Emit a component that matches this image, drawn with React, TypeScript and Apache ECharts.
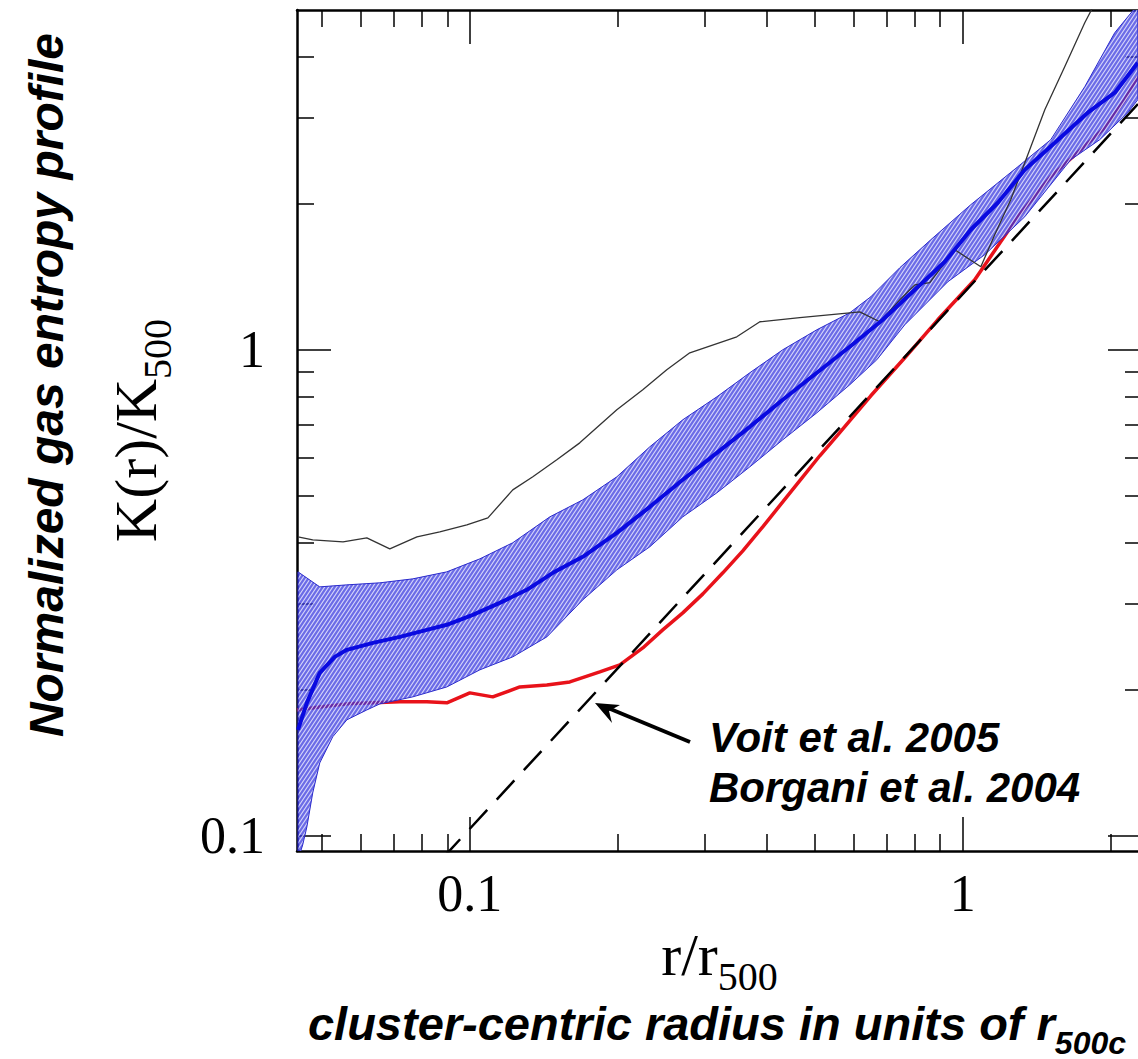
import React, { useEffect, useRef } from "react";
import * as echarts from "echarts";

// ---------- axis ranges (data units) ----------
const X_MIN = 0.0446;
const X_MAX = 2.31;
const Y_MIN = 0.0931;
const Y_MAX = 5.0;

// ---------- ticks ----------
const xMajorTicks = [0.1, 1];
const xMajorLabels = ["0.1", "1"];
const xMinorTicks = [0.05, 0.06, 0.07, 0.08, 0.09, 0.2, 0.3, 0.4, 0.5, 0.6, 0.7, 0.8, 0.9, 2];
const yMajorTicks = [0.1, 1];
const yMajorLabels = ["0.1", "1"];
const yMinorTicks = [0.2, 0.3, 0.4, 0.5, 0.6, 0.7, 0.8, 0.9, 2, 3, 4];

// ---------- series (r/r500, K/K500) ----------
const medianProfile: [number, number][] = [
  [0.0448, 0.1652], [0.0467, 0.1878], [0.0496, 0.2165], [0.0532, 0.2335], [0.0563, 0.2414],
  [0.0636, 0.2495], [0.0721, 0.2567], [0.0818, 0.2654], [0.0898, 0.2718], [0.1014, 0.2849],
  [0.115, 0.3016], [0.1305, 0.3208], [0.1474, 0.3477], [0.1695, 0.3751], [0.1987, 0.4202],
  [0.2318, 0.4753], [0.2704, 0.5402], [0.317, 0.6138], [0.3698, 0.6943], [0.4313, 0.7891],
  [0.5058, 0.8969], [0.5899, 1.0143], [0.6882, 1.1527], [0.7994, 1.329], [0.9194, 1.517],
  [1.038, 1.766], [1.178, 2.007], [1.336, 2.346], [1.537, 2.667], [1.793, 3.074],
  [2.034, 3.38], [2.265, 3.895],
];

const bandUpper: [number, number][] = [
  [0.0448, 0.3493], [0.0496, 0.3253], [0.0563, 0.3284], [0.0657, 0.3316], [0.0766, 0.3379],
  [0.0898, 0.3493], [0.1048, 0.3715], [0.1222, 0.4009], [0.1453, 0.4532], [0.1695, 0.4912],
  [0.1987, 0.5479], [0.2318, 0.6316], [0.2704, 0.7178], [0.317, 0.8002], [0.3698, 0.8969],
  [0.4313, 1.0], [0.5058, 1.0994], [0.5899, 1.1915], [0.6508, 1.2856], [0.7452, 1.475],
  [0.8612, 1.684], [1.038, 1.988], [1.2929, 2.379], [1.5083, 2.705], [1.768, 3.477],
  [2.034, 4.491], [2.265, 5.128],
];

const bandLower: [number, number][] = [
  [0.0448, 0.0892], [0.0458, 0.0958], [0.0467, 0.1043], [0.048, 0.1226], [0.0496, 0.1413],
  [0.0527, 0.1599], [0.0563, 0.1733], [0.0618, 0.1816], [0.0657, 0.1869], [0.0766, 0.1932],
  [0.0898, 0.2025], [0.1048, 0.2196], [0.1222, 0.2335], [0.1433, 0.2567], [0.1695, 0.3059],
  [0.1987, 0.3526], [0.2318, 0.3933], [0.2704, 0.4532], [0.317, 0.5078], [0.3698, 0.5743],
  [0.4313, 0.6528], [0.5058, 0.742], [0.5899, 0.8473], [0.6692, 0.9537], [0.7627, 1.1255],
  [0.9324, 1.38], [1.108, 1.569], [1.336, 1.878], [1.656, 2.46], [1.896, 2.705],
  [2.162, 3.074], [2.265, 3.269],
];

const singleCluster: [number, number][] = [
  [0.0448, 0.4122], [0.048, 0.4064], [0.0553, 0.4026], [0.0618, 0.4104], [0.0688, 0.3895],
  [0.0781, 0.4122], [0.0869, 0.4221], [0.0986, 0.4363], [0.1088, 0.451], [0.1222, 0.5151],
  [0.1342, 0.5479], [0.1501, 0.5938], [0.1671, 0.6435], [0.1987, 0.7524], [0.2243, 0.8274],
  [0.2509, 0.9097], [0.2794, 0.9858], [0.348, 1.0635], [0.3876, 1.142], [0.467, 1.164],
  [0.5899, 1.1915], [0.6181, 1.197], [0.6786, 1.142], [0.7452, 1.267], [0.7994, 1.36],
  [0.8573, 1.374], [0.9633, 1.606], [1.088, 1.482], [1.161, 1.724], [1.251, 2.035],
  [1.336, 2.425], [1.467, 3.117], [1.61, 3.823], [1.768, 4.708], [1.87, 5.25],
];

const nonRadiativeProfile: [number, number][] = [
  [0.0446, 0.1816], [0.0496, 0.1842], [0.0563, 0.1869], [0.0636, 0.1878], [0.0721, 0.1887],
  [0.0818, 0.1887], [0.0898, 0.1878], [0.1, 0.1969], [0.1113, 0.1932], [0.1263, 0.2025],
  [0.1433, 0.2044], [0.1595, 0.2074], [0.1711, 0.2124], [0.1835, 0.2175], [0.2015, 0.2248],
  [0.2243, 0.2436], [0.2462, 0.2654], [0.2704, 0.2876], [0.297, 0.3147], [0.326, 0.3477],
  [0.3579, 0.3859], [0.3928, 0.4323], [0.4313, 0.4865], [0.4737, 0.5479], [0.5128, 0.6053],
  [0.5578, 0.6686], [0.6508, 0.8042], [0.7627, 0.9628], [0.8897, 1.1527], [1.0576, 1.393],
  [1.2929, 1.878], [1.5083, 2.27], [1.735, 2.579], [1.941, 2.863], [2.132, 3.269],
  [2.265, 3.646],
];

const voitLine: [number, number][] = [
  [0.088, 0.0899], [2.31, 3.27],
];

// ---------- helpers ----------
const lg = (v: number) => Math.log10(v);
const toLog = (pts: [number, number][]) => pts.map(([x, y]) => [lg(x), lg(y)]);

const SERIF = '"Liberation Serif", "Times New Roman", serif';
const SANS = '"Liberation Sans", Arial, sans-serif';

function makeFormatter(ticks: number[], labels: string[]) {
  return (v: number) => {
    for (let i = 0; i < ticks.length; i++) {
      if (Math.abs(lg(ticks[i]) - v) < 1e-6) return labels[i];
    }
    return "";
  };
}

function makeHatch() {
  const c = document.createElement("canvas");
  c.width = 4;
  c.height = 6;
  const ctx = c.getContext("2d")!;
  ctx.fillStyle = "rgba(50,50,222,0.72)";
  ctx.fillRect(0, 0, 4, 6);
  ctx.strokeStyle = "rgba(240,240,255,0.8)";
  ctx.lineWidth = 1.1;
  ctx.beginPath();
  ctx.moveTo(0, 6);
  ctx.lineTo(4, 0);
  ctx.moveTo(-1, 1.5);
  ctx.lineTo(1, -1.5);
  ctx.moveTo(3, 7.5);
  ctx.lineTo(5, 4.5);
  ctx.stroke();
  return { image: c.toDataURL(), repeat: "repeat", imageWidth: 4, imageHeight: 6 } as any;
}

export default function App() {
  const ref = useRef<HTMLDivElement>(null);

  useEffect(() => {
    document.body.style.margin = "0";
    if (!ref.current) return;
    const chart = echarts.init(ref.current, null, { renderer: "svg" });

    const frame = { color: "#000", width: 2.5 };
    const tickStyle = { color: "#000", width: 1.5 };

    const xBase = { type: "value", min: lg(X_MIN), max: lg(X_MAX), splitLine: { show: false }, gridIndex: 0 };
    const yBase = { type: "value", min: lg(Y_MIN), max: lg(Y_MAX), splitLine: { show: false }, gridIndex: 0 };

    const line = (show: boolean) => ({ show, onZero: false, lineStyle: frame });
    const nameRich = {
      a: { fontFamily: SERIF, fontSize: 60, color: "#000", verticalAlign: "bottom", padding: [0, 0, 11, 0] },
      b: { fontFamily: SERIF, fontSize: 40, color: "#000", verticalAlign: "bottom" },
    };

    const xAxes: any[] = [
      {
        ...xBase,
        position: "bottom",
        axisLine: line(true),
        axisTick: { show: true, inside: true, length: 34, lineStyle: tickStyle, customValues: xMajorTicks.map(lg) },
        axisLabel: {
          show: true,
          customValues: xMajorTicks.map(lg),
          formatter: makeFormatter(xMajorTicks, xMajorLabels),
          margin: 16,
          fontFamily: SERIF,
          fontSize: 52,
          color: "#000",
        },
        name: "{a|r/r}{b|500}",
        nameLocation: "middle",
        nameGap: 74,
        nameTextStyle: { rich: nameRich },
      },
      {
        ...xBase,
        position: "bottom",
        axisLine: line(false),
        axisTick: { show: true, inside: true, length: 17, lineStyle: tickStyle, customValues: xMinorTicks.map(lg) },
        axisLabel: { show: false },
      },
      {
        ...xBase,
        position: "top",
        axisLine: line(true),
        axisTick: { show: true, inside: true, length: 34, lineStyle: tickStyle, customValues: xMajorTicks.map(lg) },
        axisLabel: { show: false },
      },
      {
        ...xBase,
        position: "top",
        axisLine: line(false),
        axisTick: { show: true, inside: true, length: 17, lineStyle: tickStyle, customValues: xMinorTicks.map(lg) },
        axisLabel: { show: false },
      },
    ];

    const yAxes: any[] = [
      {
        ...yBase,
        position: "left",
        axisLine: line(true),
        axisTick: { show: true, inside: true, length: 34, lineStyle: tickStyle, customValues: yMajorTicks.map(lg) },
        axisLabel: {
          show: true,
          customValues: yMajorTicks.map(lg),
          formatter: makeFormatter(yMajorTicks, yMajorLabels),
          margin: 32,
          fontFamily: SERIF,
          fontSize: 52,
          color: "#000",
        },
        name: "{a|K(r)/K}{b|500}",
        nameLocation: "middle",
        nameRotate: 90,
        nameGap: 120,
        nameTextStyle: { rich: nameRich },
      },
      {
        ...yBase,
        position: "left",
        axisLine: line(false),
        axisTick: { show: true, inside: true, length: 17, lineStyle: tickStyle, customValues: yMinorTicks.map(lg) },
        axisLabel: { show: false },
      },
      {
        ...yBase,
        position: "right",
        axisLine: line(true),
        axisTick: { show: true, inside: true, length: 34, lineStyle: tickStyle, customValues: yMajorTicks.map(lg) },
        axisLabel: { show: false },
      },
      {
        ...yBase,
        position: "right",
        axisLine: line(false),
        axisTick: { show: true, inside: true, length: 17, lineStyle: tickStyle, customValues: yMinorTicks.map(lg) },
        axisLabel: { show: false },
      },
    ];

    const hatch = makeHatch();
    const bandPolygon = [...toLog(bandUpper), ...toLog(bandLower).reverse()];

    const lineCommon = { type: "line", showSymbol: false, symbol: "none", xAxisIndex: 0, yAxisIndex: 0, clip: true, silent: true };

    const option: any = {
      animation: false,
      backgroundColor: "#fff",
      grid: { left: 297, top: 10, width: 845, height: 841, containLabel: false, outerBoundsMode: "none" },
      xAxis: xAxes,
      yAxis: yAxes,
      series: [
        {
          ...lineCommon,
          name: "non-radiative",
          data: toLog(nonRadiativeProfile),
          lineStyle: { color: "#e8121a", width: 3.5 },
          z: 2,
        },
        {
          ...lineCommon,
          name: "Voit et al. 2005",
          data: toLog(voitLine),
          lineStyle: { color: "#000", width: 2.5, type: [26, 14] },
          z: 3,
        },
        {
          type: "custom",
          name: "scatter band",
          coordinateSystem: "cartesian2d",
          xAxisIndex: 0,
          yAxisIndex: 0,
          silent: true,
          z: 4,
          data: [bandPolygon[0]],
          renderItem: (params: any, api: any) => {
            const pts = bandPolygon.map((p) => api.coord(p));
            const cs = params.coordSys;
            return {
              type: "polygon",
              shape: { points: pts },
              style: { fill: hatch, stroke: "#2b2bcc", lineWidth: 1 },
              clipPath: { type: "rect", shape: { x: cs.x, y: cs.y, width: cs.width, height: cs.height } },
            };
          },
        },
        {
          ...lineCommon,
          name: "single cluster",
          data: toLog(singleCluster),
          lineStyle: { color: "#333", width: 1.3 },
          z: 5,
        },
        {
          ...lineCommon,
          name: "median",
          data: toLog(medianProfile),
          lineStyle: { color: "#0a0ae0", width: 4 },
          z: 6,
        },
      ],
      graphic: [
        {
          type: "text",
          x: 46,
          y: 385,
          rotation: Math.PI / 2,
          style: {
            text: "Normalized gas entropy profile",
            font: `italic bold 48px ${SANS}`,
            fill: "#000",
            textAlign: "center",
            textVerticalAlign: "middle",
          },
        },
        {
          type: "text",
          x: 717,
          y: 1029,
          style: {
            text: "{a|cluster-centric radius in units of r}{b|500c}",
            textAlign: "center",
            textVerticalAlign: "middle",
            rich: {
              a: { font: `italic bold 47px ${SANS}`, fill: "#000", verticalAlign: "bottom", padding: [0, 0, 12, 0] },
              b: { font: `italic bold 32px ${SANS}`, fill: "#000", verticalAlign: "bottom" },
            },
          },
        },
        {
          type: "text",
          x: 709,
          y: 762,
          style: {
            text: "Voit et al. 2005\nBorgani et al. 2004",
            font: `italic bold 42px ${SANS}`,
            lineHeight: 50,
            fill: "#000",
            textAlign: "left",
            textVerticalAlign: "middle",
          },
        },
        {
          type: "line",
          shape: { x1: 690, y1: 742, x2: 608, y2: 708 },
          style: { stroke: "#000", lineWidth: 4 },
        },
        {
          type: "polygon",
          shape: { points: [[595, 703], [612, 723], [609, 711], [620, 705]] },
          style: { fill: "#000" },
        },
      ],
    };

    chart.setOption(option);
    return () => chart.dispose();
  }, []);

  return <div ref={ref} style={{ width: 1138, height: 1059 }} />;
}
